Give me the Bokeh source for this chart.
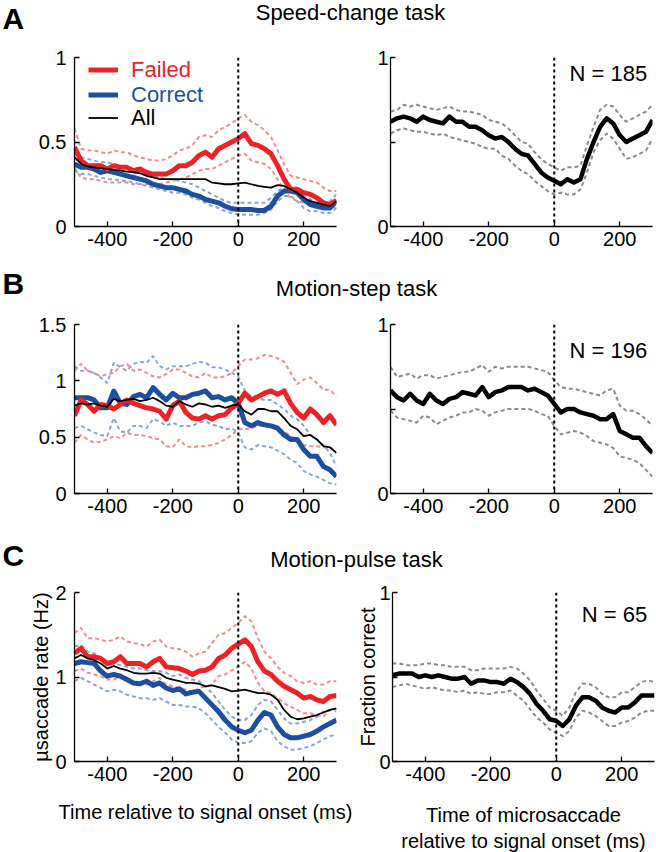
from bokeh.plotting import figure
from bokeh.models import Range1d, Span, Label, Legend, LegendItem, FixedTicker
from bokeh.layouts import column, row
from bokeh.embed import file_html
from bokeh.resources import INLINE

# ---------------- data ----------------
TIME = [-500, -480, -460, -440, -420, -400, -380, -360, -340, -320, -300,
        -280, -260, -240, -220, -200, -180, -160, -140, -120, -100,
        -80, -60, -40, -20, 0, 20, 40, 60, 80, 100,
        120, 140, 160, 180, 200, 220, 240, 260, 280, 300]

# Panel A: speed-change task
A_FAILED = [.47, .39, .36, .36, .36, .34, .36, .35, .35, .33, .34, .32, .31, .31, .31, .33, .36, .36, .38, .42, .44,
            .41, .46, .48, .50, .52, .55, .49, .48, .46, .43, .36, .28, .22, .22, .20, .19, .17, .14, .13, .155]
A_FAILED_HI = [.58, .46, .45, .45, .44, .43, .45, .44, .44, .42, .41, .40, .39, .39, .40, .42, .45, .46, .48, .53, .54,
               .53, .57, .59, .61, .64, .66, .62, .60, .57, .53, .45, .37, .30, .29, .28, .27, .26, .23, .21, .21]
A_FAILED_LO = [.35, .29, .28, .28, .27, .26, .26, .26, .26, .25, .25, .25, .25, .25, .26, .27, .28, .29, .31, .33, .34,
               .34, .36, .38, .40, .42, .43, .39, .38, .37, .34, .28, .21, .17, .15, .14, .13, .12, .11, .11, .11]
A_CORRECT = [.37, .35, .35, .34, .32, .33, .32, .31, .30, .29, .28, .27, .25, .24, .23, .23, .22, .21, .19, .18, .16,
             .15, .14, .12, .105, .10, .10, .10, .095, .095, .12, .18, .21, .21, .20, .16, .13, .12, .11, .11, .15]
A_CORRECT_HI = [.43, .41, .40, .39, .38, .38, .37, .36, .35, .34, .33, .32, .30, .29, .28, .28, .27, .26, .25, .23, .21,
                .19, .17, .15, .14, .14, .14, .14, .14, .14, .17, .21, .23, .23, .21, .18, .16, .14, .14, .15, .19]
A_CORRECT_LO = [.33, .31, .31, .30, .29, .28, .28, .27, .27, .26, .25, .24, .23, .22, .21, .20, .20, .19, .17, .16, .14,
                .12, .11, .09, .08, .07, .07, .07, .07, .08, .10, .15, .18, .18, .15, .11, .09, .09, .08, .08, .11]
A_ALL = [.41, .37, .355, .35, .345, .34, .335, .33, .325, .32, .315, .30, .29, .28, .28, .28, .28, .28, .28, .28, .28,
         .26, .255, .25, .25, .255, .26, .25, .24, .235, .23, .245, .24, .22, .20, .17, .15, .14, .13, .12, .15]
A_FRAC = [.62, .64, .65, .64, .62, .65, .63, .62, .61, .65, .62, .62, .59, .59, .57, .54, .52, .53, .50, .46, .43,
          .42, .37, .32, .29, .27, .25, .28, .26, .28, .40, .50, .59, .64, .61, .54, .50, .52, .54, .56, .63]
A_FRAC_HI = [.68, .69, .72, .71, .72, .71, .70, .69, .70, .71, .69, .68, .68, .67, .66, .63, .62, .61, .58, .54, .50,
             .49, .44, .40, .37, .35, .33, .35, .35, .36, .48, .59, .69, .72, .71, .66, .62, .64, .66, .68, .72]
A_FRAC_LO = [.55, .57, .58, .57, .56, .56, .55, .54, .55, .53, .52, .51, .50, .49, .47, .46, .46, .42, .40, .36, .33,
             .31, .27, .24, .21, .19, .20, .19, .19, .22, .32, .44, .51, .55, .52, .46, .40, .41, .43, .45, .52]

# Panel B: motion-step task
B_FAILED = [.69, .83, .79, .73, .79, .78, .75, .79, .83, .80, .78, .76, .75, .73, .66, .78, .82, .72, .67, .66, .69,
            .66, .69, .70, .76, .80, .89, .83, .86, .89, .91, .88, .91, .80, .72, .67, .75, .70, .63, .69, .61]
B_FAILED_HI = [1.09, 1.15, 1.09, 1.07, 1.04, 1.06, 1.07, 1.13, 1.15, 1.09, 1.10, 1.07, 1.04, 1.03, 1.06, 1.10, 1.10,
               1.07, 1.04, 1.03, 1.07, 1.03, 1.03, 1.04, 1.07, 1.13, 1.19, 1.19, 1.20, 1.23, 1.22, 1.20, 1.17, 1.07,
               .97, 1.01, 1.03, .98, .92, .92, .86]
B_FAILED_LO = [.45, .52, .48, .45, .46, .48, .51, .49, .54, .52, .52, .51, .49, .48, .42, .41, .48, .42, .41, .42, .42,
               .43, .45, .48, .52, .57, .57, .58, .60, .60, .60, .58, .55, .51, .48, .43, .42, .42, .41, .41, .36]
B_CORRECT = [.85, .85, .85, .83, .76, .76, .91, .80, .79, .86, .88, .85, .94, .88, .83, .89, .85, .85, .88, .89, .91,
             .85, .86, .83, .85, .80, .63, .60, .63, .61, .60, .58, .52, .48, .48, .39, .33, .33, .24, .21, .15]
B_CORRECT_HI = [1.13, 1.09, 1.09, 1.07, 1.03, .98, 1.16, 1.12, 1.09, 1.15, 1.17, 1.16, 1.22, 1.13, 1.10, 1.13, 1.13,
                1.13, 1.15, 1.17, 1.16, 1.12, 1.12, 1.10, 1.07, 1.04, .91, .86, .85, .83, .83, .79, .75, .69, .66,
                .60, .52, .48, .43, .36, .24]
B_CORRECT_LO = [.58, .60, .57, .54, .52, .51, .67, .55, .54, .60, .60, .58, .66, .64, .60, .63, .60, .60, .60, .63, .64,
                .61, .60, .57, .58, .54, .41, .39, .43, .42, .41, .38, .35, .30, .27, .20, .17, .15, .12, .09, .08]
B_ALL = [.78, .80, .79, .80, .78, .77, .84, .82, .83, .84, .82, .83, .85, .82, .78, .77, .82, .79, .77, .80, .79,
         .77, .78, .76, .78, .79, .73, .70, .75, .75, .73, .73, .67, .60, .57, .51, .52, .48, .42, .41, .36]
B_FRAC = [.61, .57, .55, .59, .55, .53, .59, .55, .53, .56, .57, .60, .59, .58, .63, .57, .60, .61, .63, .63, .63,
          .61, .62, .60, .58, .53, .48, .50, .50, .48, .47, .46, .44, .44, .47, .37, .35, .33, .33, .28, .24]
B_FRAC_HI = [.75, .69, .70, .71, .68, .70, .70, .68, .69, .70, .71, .72, .72, .74, .76, .72, .75, .74, .75, .75, .75,
             .75, .74, .73, .72, .67, .63, .62, .62, .61, .60, .59, .58, .61, .62, .52, .49, .49, .47, .44, .40]
B_FRAC_LO = [.49, .45, .44, .43, .42, .46, .45, .41, .43, .45, .46, .48, .48, .50, .49, .46, .48, .49, .50, .50, .50,
             .50, .49, .47, .46, .40, .35, .36, .37, .36, .34, .31, .30, .29, .27, .22, .21, .20, .18, .14, .10]

# Panel C: motion-pulse task
C_FAILED = [1.28, 1.34, 1.24, 1.24, 1.22, 1.16, 1.18, 1.24, 1.16, 1.16, 1.16, 1.12, 1.18, 1.22, 1.12, 1.11, 1.10,
            1.07, 1.03, 1.07, 1.08, 1.12, 1.22, 1.26, 1.34, 1.39, 1.44, 1.36, 1.18, 1.07, 1.03, .95, .89, .85, .81,
            .75, .77, .73, .71, .77, .78]
C_FAILED_HI = [1.52, 1.58, 1.46, 1.46, 1.44, 1.42, 1.44, 1.48, 1.42, 1.40, 1.39, 1.36, 1.42, 1.44, 1.36, 1.34, 1.33,
               1.30, 1.24, 1.28, 1.30, 1.40, 1.50, 1.52, 1.58, 1.64, 1.72, 1.66, 1.46, 1.30, 1.22, 1.12, 1.05, 1.01,
               .95, .93, .95, .91, .91, .95, .95]
C_FAILED_LO = [1.07, 1.10, 1.05, 1.03, 1.01, .97, .97, 1.01, .95, .93, .93, .91, .95, .99, .91, .89, .87, .85, .81,
               .87, .89, .91, 1.01, 1.03, 1.08, 1.12, 1.18, 1.10, .93, .83, .81, .75, .69, .65, .61, .57, .57, .55,
               .53, .61, .59]
C_CORRECT = [1.16, 1.18, 1.17, 1.16, 1.07, 1.01, 1.03, 1.01, .97, .93, .92, .95, .90, .93, .87, .84, .86, .80, .82,
             .83, .75, .67, .59, .49, .41, .37, .34, .37, .49, .58, .55, .41, .32, .28, .28, .30, .32, .36, .41, .45,
             .49]
C_CORRECT_HI = [1.36, 1.38, 1.30, 1.28, 1.22, 1.18, 1.16, 1.14, 1.12, 1.10, 1.10, 1.08, 1.07, 1.07, 1.05, 1.01, 1.03,
                .99, .97, .95, .89, .81, .71, .61, .53, .49, .49, .55, .67, .73, .71, .61, .51, .45, .45, .47, .49,
                .53, .59, .61, .62]
C_CORRECT_LO = [.95, .99, .95, .91, .87, .83, .85, .83, .79, .77, .75, .75, .73, .75, .71, .67, .67, .65, .65, .63,
                .57, .49, .41, .34, .26, .22, .22, .24, .34, .39, .36, .24, .18, .14, .14, .16, .18, .22, .26, .30, .32]
C_ALL = [1.22, 1.26, 1.22, 1.20, 1.16, 1.10, 1.13, 1.10, 1.08, 1.05, 1.04, 1.04, 1.05, 1.04, .99, .97, .95, .93, .93,
         .92, .89, .90, .88, .86, .83, .84, .85, .83, .81, .81, .79, .73, .61, .53, .50, .51, .53, .55, .58, .61, .63]
C_FRAC = [.51, .52, .52, .52, .50, .51, .50, .51, .50, .49, .49, .50, .46, .48, .48, .47, .47, .46, .49, .47, .44,
          .40, .34, .30, .25, .24, .21, .25, .33, .38, .38, .36, .32, .30, .29, .32, .32, .35, .39, .39, .39]
C_FRAC_HI = [.58, .58, .57, .57, .57, .58, .58, .57, .57, .56, .56, .56, .54, .54, .55, .55, .55, .55, .56, .55, .52,
             .48, .42, .37, .32, .30, .27, .32, .41, .46, .46, .44, .40, .38, .38, .41, .41, .44, .47, .48, .47]
C_FRAC_LO = [.44, .45, .46, .45, .44, .43, .44, .43, .42, .42, .41, .42, .40, .41, .40, .40, .41, .41, .42, .39, .36,
             .31, .26, .23, .19, .17, .15, .18, .26, .30, .29, .27, .24, .21, .21, .23, .24, .26, .29, .30, .30]

TITLES = ["Speed-change task", "Motion-step task", "Motion-pulse task"]
LETTERS = ["A", "B", "C"]
N_LABELS = ["N = 185", "N = 196", "N = 65"]
X_TICKS = [-400, -200, 0, 200]
X_TICK_LABELS = ["-400", "-200", "0", "200"]

FONT = "Liberation Sans"
RED = "#ec2227"
BLUE = "#1c4f9f"
RED_L = "#f08c8c"
BLUE_L = "#88a5d6"
GREY = "#8a8a8a"

FRAME_W = 262
FRAME_H = 169


def style_axes(p, yticks, ylabels, left):
    p.outline_line_color = None
    p.grid.visible = False
    for ax in (p.xaxis[0], p.yaxis[0]):
        ax.axis_line_color = "black"
        ax.axis_line_width = 1.3
        ax.major_tick_in = 5
        ax.major_tick_out = 0
        ax.major_tick_line_color = "black"
        ax.major_tick_line_width = 1.3
        ax.minor_tick_line_color = None
        ax.major_label_text_font = FONT
        ax.major_label_text_font_size = "20px"
        ax.major_label_text_color = "black"
        ax.axis_label_text_font = FONT
        ax.axis_label_text_font_size = "20px"
        ax.axis_label_text_font_style = "normal"
        ax.axis_label_text_color = "black"
    p.xaxis.ticker = FixedTicker(ticks=X_TICKS)
    p.xaxis.major_label_overrides = dict(zip(X_TICKS, X_TICK_LABELS))
    p.xaxis.major_label_standoff = 5
    p.yaxis.ticker = FixedTicker(ticks=yticks)
    p.yaxis.major_label_overrides = dict(zip(yticks, ylabels))
    p.yaxis.major_label_standoff = 8 if left else 2


def make_panel(ymax, yticks, ylabels, left, top, bottom):
    if left:
        bl, br = 74, 18
    else:
        bl, br = 36, 4
    p = figure(frame_width=FRAME_W, frame_height=FRAME_H,
               x_range=Range1d(-500, 300), y_range=Range1d(0, ymax),
               output_backend="svg", toolbar_location=None,
               min_border_left=bl, min_border_right=br,
               min_border_top=top, min_border_bottom=bottom)
    style_axes(p, yticks, ylabels, left)
    p.add_layout(Span(location=0, dimension="height", line_color="black",
                      line_width=2, line_dash="3 3"))
    return p


def add_left_lines(p, f, fh, fl, c, ch, cl, a):
    for s in (fh, fl):
        p.line(TIME, s, line_color=RED_L, line_width=2, line_dash="4 3")
    for s in (ch, cl):
        p.line(TIME, s, line_color=BLUE_L, line_width=2, line_dash="4 3")
    rc = p.line(TIME, c, line_color=BLUE, line_width=5, line_join="round")
    rf = p.line(TIME, f, line_color=RED, line_width=5, line_join="round")
    ra = p.line(TIME, a, line_color="black", line_width=1.8, line_join="round")
    return rf, rc, ra


def add_right_lines(p, m, hi, lo, nlabel, nx, ny):
    for s in (hi, lo):
        p.line(TIME, s, line_color=GREY, line_width=2, line_dash="4 3")
    p.line(TIME, m, line_color="black", line_width=4.5, line_join="round")
    p.add_layout(Label(x=nx, y=ny, text=nlabel, text_align="right",
                       text_baseline="middle", text_font=FONT,
                       text_font_size="22px", text_color="black"))


def add_legend(p, r, label, color, vy):
    lg = Legend(items=[LegendItem(label=label, renderers=[r])],
                location=(14, vy), label_text_color=color,
                label_text_font=FONT, label_text_font_size="22px",
                glyph_width=30, glyph_height=25, label_height=25,
                label_standoff=13, padding=0, margin=0, spacing=0,
                border_line_color=None, background_fill_alpha=0)
    p.add_layout(lg)


def header(h, letter, ly, title, tx, ty):
    p = figure(width=656, height=h, x_range=Range1d(0, 656), y_range=Range1d(0, h),
               output_backend="svg", toolbar_location=None, min_border=0,
               x_axis_location=None, y_axis_location=None)
    p.outline_line_color = None
    p.grid.visible = False
    p.add_layout(Label(x=2, y=ly, text=letter, text_font=FONT, text_font_size="30px",
                       text_font_style="bold", text_baseline="middle", text_color="black"))
    p.add_layout(Label(x=tx, y=ty, text=title, text_font=FONT, text_font_size="22px",
                       text_align="center", text_baseline="middle", text_color="black"))
    return p


# ---------------- row A ----------------
hA = header(40, LETTERS[0], 22.4, TITLES[0], 350, 27.6)
aL = make_panel(1, [0, 0.5, 1], ["0", "0.5", "1"], True, 17, 36)
rf, rc, ra = add_left_lines(aL, A_FAILED, A_FAILED_HI, A_FAILED_LO,
                            A_CORRECT, A_CORRECT_HI, A_CORRECT_LO, A_ALL)
add_legend(aL, rf, "Failed", RED, 143.5)
add_legend(aL, rc, "Correct", BLUE, 118.5)
add_legend(aL, ra, "All", "black", 95.5)
aR = make_panel(1, [0, 0.5, 1], ["0", "", "1"], False, 17, 36)
add_right_lines(aR, A_FRAC, A_FRAC_HI, A_FRAC_LO, N_LABELS[0], 284, 0.908)

# ---------------- row B ----------------
hB = header(45, LETTERS[1], 24, TITLES[1], 356, 19)
bL = make_panel(1.5, [0, 0.5, 1, 1.5], ["0", "0.5", "1", "1.5"], True, 17, 36)
add_left_lines(bL, B_FAILED, B_FAILED_HI, B_FAILED_LO,
               B_CORRECT, B_CORRECT_HI, B_CORRECT_LO, B_ALL)
bR = make_panel(1, [0, 0.5, 1], ["0", "", "1"], False, 17, 36)
add_right_lines(bR, B_FRAC, B_FRAC_HI, B_FRAC_LO, N_LABELS[1], 284, 0.849)

# ---------------- row C ----------------
hC = header(46, LETTERS[2], 20, TITLES[2], 356, 16.5)
cL = make_panel(2, [0, 1, 2], ["0", "1", "2"], True, 17, 91)
add_left_lines(cL, C_FAILED, C_FAILED_HI, C_FAILED_LO,
               C_CORRECT, C_CORRECT_HI, C_CORRECT_LO, C_ALL)
cL.yaxis.axis_label = "\u00b5saccade rate (Hz)"
cL.yaxis.axis_label_standoff = 0
cL.xaxis.axis_label = "Time relative to signal onset (ms)"
cL.xaxis.axis_label_standoff = 17
cR = make_panel(1, [0, 0.5, 1], ["0", "", "1"], False, 17, 91)
add_right_lines(cR, C_FRAC, C_FRAC_HI, C_FRAC_LO, N_LABELS[2], 278, 0.867)
cR.yaxis.axis_label = "Fraction correct"
cR.yaxis.axis_label_standoff = -3
cR.xaxis.axis_label = "Time of microsaccade\nrelative to signal onset (ms)"
cR.xaxis.axis_label_standoff = 20

layout = column(hA, row(aL, aR), hB, row(bL, bR), hC, row(cL, cR))

open("out.html", "w").write(file_html(layout, INLINE))
